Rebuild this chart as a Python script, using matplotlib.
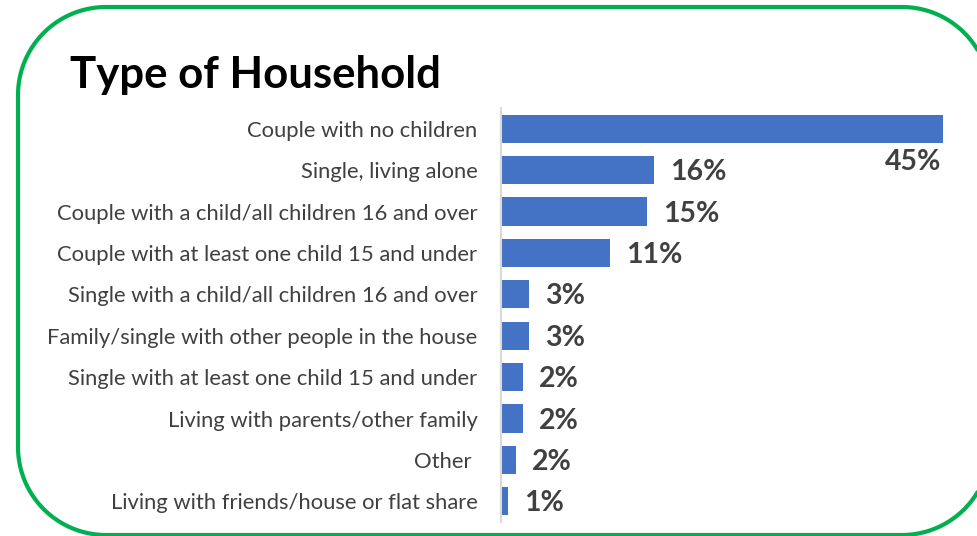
import matplotlib
matplotlib.use("Agg")
import numpy as np
import matplotlib.pyplot as plt
from matplotlib.patches import Polygon

# Data
categories = [
    "Couple with no children",
    "Single, living alone",
    "Couple with a child/all children 16 and over",
    "Couple with at least one child 15 and under",
    "Single with a child/all children 16 and over",
    "Family/single with other people in the house",
    "Single with at least one child 15 and under",
    "Living with parents/other family",
    "Other ",
    "Living with friends/house or flat share",
]
values = [45.0, 15.6, 14.9, 11.1, 2.9, 2.9, 2.2, 2.2, 1.5, 0.7]
labels = ["45%", "16%", "15%", "11%", "3%", "3%", "2%", "2%", "2%", "1%"]

plt.rcParams["font.family"] = ["Lato", "DejaVu Sans"]

fig = plt.figure(figsize=(9.78, 5.36), dpi=100)
fig.patch.set_facecolor("white")

# green rounded frame, built from circular arcs (pixels from bottom-left)
x0, x1, y0, y1, r = 18, 990, 1, 529, 88
pts = []
for cx, cy, a0 in [(x1 - r, y1 - r, 0), (x0 + r, y1 - r, 90),
                   (x0 + r, y0 + r, 180), (x1 - r, y0 + r, 270)]:
    a = np.radians(np.linspace(a0, a0 + 90, 40))
    pts += list(zip(cx + r * np.cos(a), cy + r * np.sin(a)))
pts = np.array(pts) / 100.0
frame = Polygon(pts, closed=True, fill=False, edgecolor="#00B050",
                linewidth=3, transform=fig.dpi_scale_trans, clip_on=False)
fig.patches.append(frame)

fig.text(70 / 978, (536 - 88) / 536, "Type of Household", fontsize=31.5,
         fontweight="bold", color="black", va="baseline", ha="left")

ax = fig.add_axes([501 / 978, 14 / 536, 442 / 978, 414 / 536])
ypos = list(range(len(categories)))
ax.barh(ypos, values, height=0.68, color="#4472C4")
ax.set_xlim(0, 45)
ax.set_ylim(len(categories) - 0.5, -0.5)
ax.set_yticks(ypos)
ax.set_yticklabels(categories, fontsize=15.8, color="#404040")
ax.tick_params(axis="y", length=0, pad=17)
ax.set_xticks([])
for s in ["top", "right", "bottom"]:
    ax.spines[s].set_visible(False)
ax.spines["left"].set_color("#D9D9D9")
ax.spines["left"].set_linewidth(1.5)

for i, (v, lab) in enumerate(zip(values, labels)):
    if i == 0:
        ax.text(v - 0.2, i + 0.8, lab, ha="right", va="center", fontsize=20.5,
                fontweight="bold", color="#404040")
    else:
        ax.annotate(lab, (v, i + 0.05), xytext=(16, 0), textcoords="offset pixels",
                    ha="left", va="center", fontsize=20.5, fontweight="bold",
                    color="#404040")

fig.savefig("out.png", dpi=100, facecolor="white")
